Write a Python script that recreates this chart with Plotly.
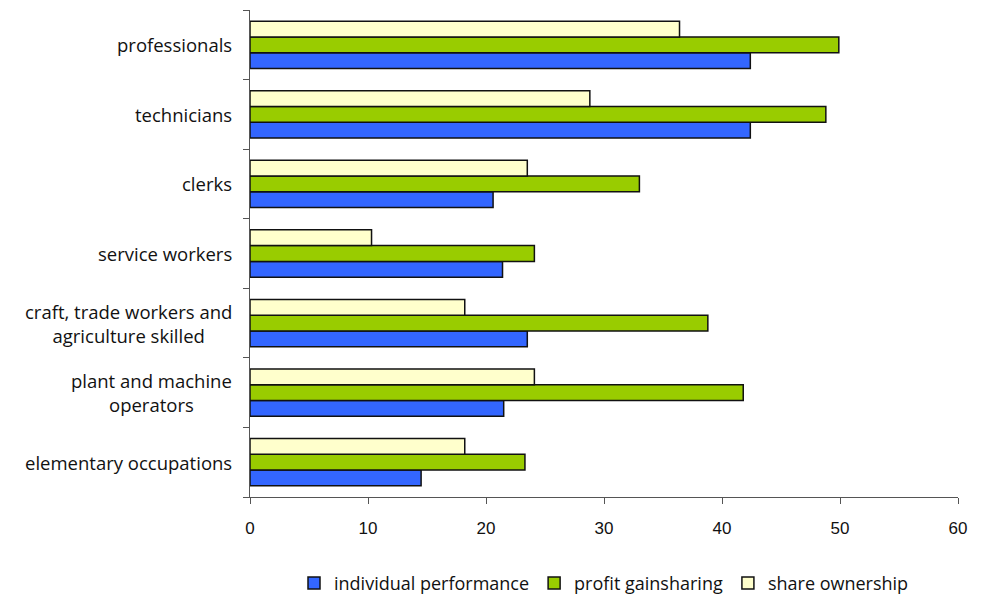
import plotly.graph_objects as go

categories = ["professionals", "technicians", "clerks", "service workers",
              "craft, trade workers and<br>agriculture skilled",
              "plant and machine<br>operators", "elementary occupations"]
individual = [42.4, 42.4, 20.6, 21.4, 23.5, 21.5, 14.5]
profit = [49.9, 48.8, 33.0, 24.1, 38.8, 41.8, 23.3]
share = [36.4, 28.8, 23.5, 10.3, 18.2, 24.1, 18.2]
series_names = ["individual performance", "profit gainsharing", "share ownership"]
colors = ["#3366FF", "#99CC00", "#FFFFCC"]
x_ticks = [0, 10, 20, 30, 40, 50, 60]

fig = go.Figure()
for name, vals, col in zip(series_names, [individual, profit, share], colors):
    fig.add_trace(go.Bar(y=categories, x=vals, name=name, orientation="h",
                         marker=dict(color=col, line=dict(color="#111111", width=1.5))))

label_font = dict(family="Open Sans, sans-serif", size=18.5, color="#111111")
for cat in categories:
    fig.add_annotation(text=cat, x=0, xref="paper", xshift=-16,
                       y=cat, yref="y", xanchor="right", yanchor="middle",
                       align="center", showarrow=False, font=label_font)

fig.update_layout(
    width=987, height=600,
    margin=dict(l=250, r=29, t=10, b=103, autoexpand=False),
    paper_bgcolor="white", plot_bgcolor="white",
    barmode="group", bargap=0.32, bargroupgap=0,
    font=dict(family="Open Sans, sans-serif", size=15, color="#111111"),
    legend=dict(orientation="h", x=0.50, xanchor="center", y=-0.177, yanchor="middle",
                font=dict(family="Open Sans, sans-serif", size=18, color="#111111"),
                itemwidth=30, traceorder="normal"),
    showlegend=True,
)
fig.update_xaxes(range=[0, 60], tickvals=x_ticks, showgrid=False, zeroline=False,
                 showline=True, linecolor="#555555", linewidth=1,
                 ticks="outside", ticklen=6, tickcolor="#555555", ticklabelstandoff=10,
                 tickfont=dict(family="Liberation Sans, Arial, sans-serif", size=17, color="#111111"))
fig.update_yaxes(categoryorder="array", categoryarray=categories[::-1],
                 showgrid=False, zeroline=False, showline=True, linecolor="#555555", linewidth=1,
                 ticks="outside", ticklen=6, tickcolor="#555555", tickson="boundaries",
                 showticklabels=False)

fig.write_html("out.html")
